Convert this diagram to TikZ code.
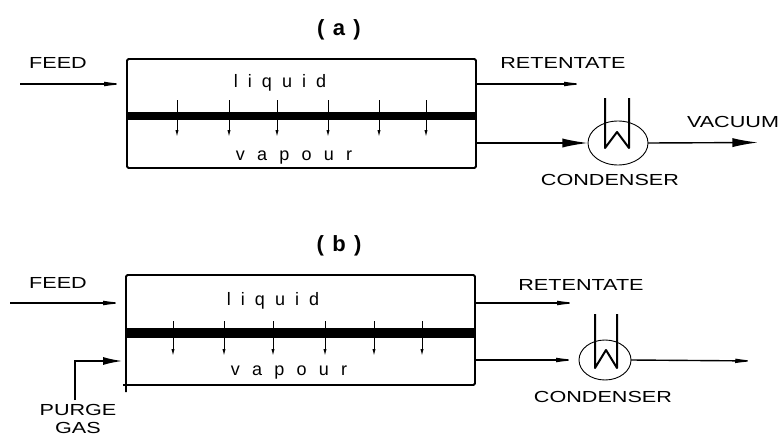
\documentclass[tikz,border=0pt]{standalone}
\usepackage{fontspec}
\usepackage{xcolor}
\usepackage{tikz}
\usetikzlibrary{arrows.meta,positioning,shapes.geometric,calc}
\newfontfamily\streamfont[FakeStretch=1.35]{Liberation Sans}
\newfontfamily\liquidfont[LetterSpace=56]{Liberation Sans}
\newfontfamily\vapourfont[LetterSpace=68]{Liberation Sans}
\newfontfamily\titlefont[LetterSpace=10]{Liberation Sans}

\begin{document}
\begin{tikzpicture}[x=1pt, y=-1pt,
  lbl/.style={font=\streamfont\fontsize{16}{18}\selectfont, align=center, inner sep=0pt},
  liquidlbl/.style={font=\liquidfont\fontsize{18}{20}\selectfont, inner sep=0pt},
  vapourlbl/.style={font=\vapourfont\fontsize{18}{20}\selectfont, inner sep=0pt},
  heading/.style={font=\titlefont\bfseries\fontsize{22}{24}\selectfont, inner sep=0pt},
  module/.style={rectangle, inner sep=0pt, outer sep=0pt},
  membrane/.style={rectangle, fill=black, inner sep=0pt, outer sep=0pt},
  condenser/.style={ellipse, draw, line width=0.9pt, inner sep=0pt, outer sep=0pt},
  wall/.style={draw, line width=1.8pt, rounded corners=1.5pt},
  line/.style={draw, line width=1.4pt, -{Latex[length=9mm, width=3.2mm]}},
  thinline/.style={draw, line width=1.4pt, -{Latex[length=8mm, width=1.6mm]}},
  purgeline/.style={draw, line width=2pt, -{Latex[length=7mm, width=2.8mm]}},
  tube/.style={draw, line width=2pt, line join=round},
  flux/.style={draw, line width=1pt, -{Latex[length=7pt, width=3.2pt]}}]
  \useasboundingbox (0,0) rectangle (782,439);
  % (a) pervaporation under vacuum
  \node [heading] (titlea) at (339,30) {( a )};
  \node [module, minimum width=349pt, minimum height=109pt] (moda) at (301.5,113.5) {};
  \draw [wall] (moda.south west) rectangle (moda.north east);
  \foreach \x in {177,229,277,328,379,426}
    \draw [flux] (\x,100) -- (\x,137);
  \node [membrane, minimum width=349pt, minimum height=8pt] (mema) at (301.5,115.5) {};
  \node [liquidlbl] (liqa) at (280,83) {liquid};
  \node [vapourlbl] (vapa) at (294,158) {vapour};
  \node [lbl] (feeda) at (58,63) {FEED};
  \node [lbl] (reta) at (563,63) {RETENTATE};
  \node [lbl] (vaca) at (733,122) {VACUUM};
  \node [condenser, minimum width=60pt, minimum height=44pt] (conda) at (618,143) {};
  \node [lbl] (condla) at (610,180) {CONDENSER};
  \coordinate (feedain) at (20,84);
  \coordinate (retaout) at (587,84);
  \coordinate (vacaout) at (758,142.5);
  \path [thinline] (feedain) -- (moda.west |- feedain);
  \path [thinline] (moda.east |- retaout) -- (retaout);
  \path [line] (moda.east |- conda.west) -- (conda.west);
  \path [line] (conda.east) -- (vacaout);
  \draw [tube] ($(conda.center)+(-13,-45)$) -- ($(conda.center)+(-13,5)$) -- ($(conda.center)+(-1,-11)$) -- ($(conda.center)+(11,5)$) -- ($(conda.center)+(11,-45)$);
  % (b) sweep with purge gas
  \node [heading] (titleb) at (339,246) {( b )};
  \node [module, minimum width=349pt, minimum height=110pt] (modb) at (300.5,330) {};
  \draw [wall] ([yshift=-7pt]modb.south west) -- (modb.north west) -- (modb.north east) -- (modb.south east) -- ([xshift=-3pt]modb.south west);
  \foreach \x in {173,224,273,325,374,422}
    \draw [flux] (\x,321) -- (\x,356);
  \node [membrane, minimum width=349pt, minimum height=10pt] (memb) at (300.5,333) {};
  \node [liquidlbl] (liqb) at (273,301) {liquid};
  \node [vapourlbl] (vapb) at (289,373) {vapour};
  \node [lbl] (feedb) at (58,283) {FEED};
  \node [lbl] (retb) at (581,285) {RETENTATE};
  \node [lbl] (purge) at (78,419) {PURGE\\GAS};
  \node [condenser, minimum width=52pt, minimum height=40pt] (condb) at (605,360) {};
  \node [lbl] (condlb) at (603,397) {CONDENSER};
  \coordinate (feedbin) at (10,303);
  \coordinate (retbout) at (580,303);
  \coordinate (ventb) at (758,361);
  \coordinate (purgein) at (75,400);
  \path [thinline] (feedbin) -- (modb.west |- feedbin);
  \path [thinline] (modb.east |- retbout) -- (retbout);
  \path [thinline] (modb.east |- condb.west) -- (condb.west);
  \path [thinline] (condb.east) -- (ventb);
  \path [purgeline] (purgein) |- ([xshift=-3pt,yshift=-1pt]modb.west |- condb.west);
  \draw [tube] ($(condb.center)+(-10,-46)$) -- ($(condb.center)+(-10,8)$) -- ($(condb.center)+(1,-10)$) -- ($(condb.center)+(12,8)$) -- ($(condb.center)+(12,-46)$);
\end{tikzpicture}
\end{document}
